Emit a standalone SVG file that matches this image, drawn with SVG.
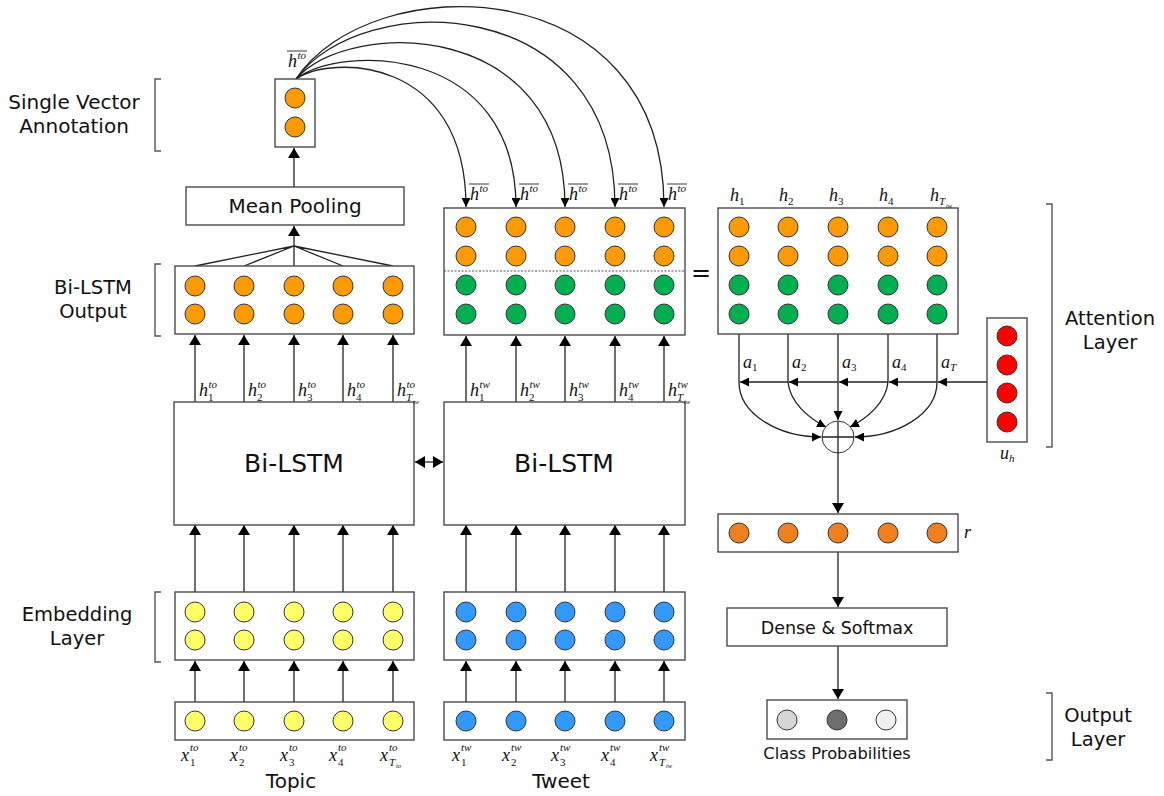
<svg xmlns="http://www.w3.org/2000/svg" width="1164" height="796" viewBox="0 0 1164 796">
<defs>
<marker id="ah" viewBox="0 0 10 12" refX="10" refY="6" markerWidth="10" markerHeight="12" markerUnits="userSpaceOnUse" orient="auto"><path d="M0,0 L10,6 L0,12 z" fill="#000"/></marker>
<marker id="ahs" viewBox="0 0 10 10" refX="10" refY="5" markerWidth="9" markerHeight="9" markerUnits="userSpaceOnUse" orient="auto"><path d="M0,0 L10,5 L0,10 z" fill="#000"/></marker>
<marker id="ahb" viewBox="0 0 10 12" refX="0" refY="6" markerWidth="10" markerHeight="12" markerUnits="userSpaceOnUse" orient="auto"><path d="M10,0 L0,6 L10,12 z" fill="#000"/></marker>
</defs>
<style>
.box{fill:#fff;stroke:#4a4a4a;stroke-width:1.4}
circle{stroke:#333;stroke-width:1}
.or{fill:#ff9a00}.gr{fill:#00b050}.ye{fill:#ffff66}.bl{fill:#3399ff}.rd{fill:#ff0000}.or2{fill:#f07f1e}
.lab{font-family:"DejaVu Sans",sans-serif;font-size:19.5px;fill:#111;text-anchor:middle}
.m{font-family:"Liberation Serif",serif;font-style:italic;fill:#111;font-size:18px}
.s{font-family:"Liberation Serif",serif;font-style:italic;fill:#111;font-size:11px}
.n{font-family:"Liberation Serif",serif;fill:#111;font-size:11px}
.t{font-family:"Liberation Serif",serif;font-style:italic;fill:#111;font-size:6.5px}
.ln{stroke:#222;stroke-width:1.3;fill:none}
.br{stroke:#555;stroke-width:1.4;fill:none}
.ol{stroke:#222;stroke-width:0.9}
</style>
<rect width="1164" height="796" fill="#fff"/>

<!-- layer labels -->
<g id="labels">
<text class="lab" x="74" y="109" style="font-size:20px">Single Vector</text>
<text class="lab" x="74" y="133" style="font-size:20px">Annotation</text>
<path class="br" d="M161,79 L155,79 L155,151 L161,151"/>
<text class="lab" x="93" y="294">Bi-LSTM</text>
<text class="lab" x="93" y="318">Output</text>
<path class="br" d="M161,264 L155,264 L155,336 L161,336"/>
<text class="lab" x="77" y="621">Embedding</text>
<text class="lab" x="77" y="645">Layer</text>
<path class="br" d="M161,592 L155,592 L155,662 L161,662"/>
<text class="lab" x="1110" y="325">Attention</text>
<text class="lab" x="1110" y="349">Layer</text>
<path class="br" d="M1046,204 L1052,204 L1052,447 L1046,447"/>
<text class="lab" x="1098" y="722">Output</text>
<text class="lab" x="1098" y="746">Layer</text>
<path class="br" d="M1046,693 L1052,693 L1052,760 L1046,760"/>
<text class="lab" x="291" y="788" style="font-size:20px">Topic</text>
<text class="lab" x="561" y="788" style="font-size:20px">Tweet</text>
</g>

<!-- connectors -->
<g id="connectors">
<!-- input -> embedding -->
<line class="ln" x1="195" y1="702" x2="195" y2="661" marker-end="url(#ah)"/>
<line class="ln" x1="244" y1="702" x2="244" y2="661" marker-end="url(#ah)"/>
<line class="ln" x1="294" y1="702" x2="294" y2="661" marker-end="url(#ah)"/>
<line class="ln" x1="343" y1="702" x2="343" y2="661" marker-end="url(#ah)"/>
<line class="ln" x1="393" y1="702" x2="393" y2="661" marker-end="url(#ah)"/>
<line class="ln" x1="466" y1="702" x2="466" y2="661" marker-end="url(#ah)"/>
<line class="ln" x1="516" y1="702" x2="516" y2="661" marker-end="url(#ah)"/>
<line class="ln" x1="565" y1="702" x2="565" y2="661" marker-end="url(#ah)"/>
<line class="ln" x1="615" y1="702" x2="615" y2="661" marker-end="url(#ah)"/>
<line class="ln" x1="664" y1="702" x2="664" y2="661" marker-end="url(#ah)"/>
<!-- embedding -> bilstm -->
<line class="ln" x1="195" y1="592" x2="195" y2="525" marker-end="url(#ah)"/>
<line class="ln" x1="244" y1="592" x2="244" y2="525" marker-end="url(#ah)"/>
<line class="ln" x1="294" y1="592" x2="294" y2="525" marker-end="url(#ah)"/>
<line class="ln" x1="343" y1="592" x2="343" y2="525" marker-end="url(#ah)"/>
<line class="ln" x1="393" y1="592" x2="393" y2="525" marker-end="url(#ah)"/>
<line class="ln" x1="466" y1="592" x2="466" y2="525" marker-end="url(#ah)"/>
<line class="ln" x1="516" y1="592" x2="516" y2="525" marker-end="url(#ah)"/>
<line class="ln" x1="565" y1="592" x2="565" y2="525" marker-end="url(#ah)"/>
<line class="ln" x1="615" y1="592" x2="615" y2="525" marker-end="url(#ah)"/>
<line class="ln" x1="664" y1="592" x2="664" y2="525" marker-end="url(#ah)"/>
<!-- bilstm -> outputs -->
<line class="ln" x1="195" y1="402" x2="195" y2="335" marker-end="url(#ah)"/>
<line class="ln" x1="244" y1="402" x2="244" y2="335" marker-end="url(#ah)"/>
<line class="ln" x1="294" y1="402" x2="294" y2="335" marker-end="url(#ah)"/>
<line class="ln" x1="343" y1="402" x2="343" y2="335" marker-end="url(#ah)"/>
<line class="ln" x1="393" y1="402" x2="393" y2="335" marker-end="url(#ah)"/>
<line class="ln" x1="466" y1="402" x2="466" y2="336" marker-end="url(#ah)"/>
<line class="ln" x1="516" y1="402" x2="516" y2="336" marker-end="url(#ah)"/>
<line class="ln" x1="565" y1="402" x2="565" y2="336" marker-end="url(#ah)"/>
<line class="ln" x1="615" y1="402" x2="615" y2="336" marker-end="url(#ah)"/>
<line class="ln" x1="664" y1="402" x2="664" y2="336" marker-end="url(#ah)"/>
<!-- double arrow -->
<line class="ln" x1="415" y1="462" x2="443" y2="462" stroke-width="1.6" marker-start="url(#ahb)" marker-end="url(#ah)"/>
<!-- fan to mean pooling -->
<path class="ln" d="M195,266 L294,246 M244,266 L294,246 M294,266 L294,246 M343,266 L294,246 M393,266 L294,246"/>
<line class="ln" x1="294" y1="246" x2="294" y2="226" marker-end="url(#ah)"/>
<line class="ln" x1="294" y1="187" x2="294" y2="148" marker-end="url(#ah)"/>
<!-- curves from single vector -->
<path class="ln" d="M296,79 C330,55 466,55 466,207" marker-end="url(#ahs)"/>
<path class="ln" d="M296,79 C340,44 516,44 516,207" marker-end="url(#ahs)"/>
<path class="ln" d="M296,79 C350,18 565,18 565,207" marker-end="url(#ahs)"/>
<path class="ln" d="M296,79 C360,-11 615,-11 615,207" marker-end="url(#ahs)"/>
<path class="ln" d="M296,79 C370,-33 664,-33 664,207" marker-end="url(#ahs)"/>
<!-- attention -->
<path class="ln" d="M739,334 V382 M788,334 V382 M838,334 V382 M888,334 V382 M937,334 V382"/>
<line class="ln" x1="987" y1="382" x2="938" y2="382" marker-end="url(#ahs)"/>
<line class="ln" x1="937" y1="382" x2="889" y2="382" marker-end="url(#ahs)"/>
<line class="ln" x1="888" y1="382" x2="839" y2="382" marker-end="url(#ahs)"/>
<line class="ln" x1="838" y1="382" x2="789" y2="382" marker-end="url(#ahs)"/>
<line class="ln" x1="788" y1="382" x2="740" y2="382" marker-end="url(#ahs)"/>
<path class="ln" d="M739,382 C739,415 780,437 821,437" marker-end="url(#ahs)"/>
<path class="ln" d="M788,382 C790,402 808,418 826,427" marker-end="url(#ahs)"/>
<path class="ln" d="M888,382 C886,402 868,418 850,427" marker-end="url(#ahs)"/>
<path class="ln" d="M937,382 C937,415 896,437 855,437" marker-end="url(#ahs)"/>
<line class="ln" x1="838" y1="382" x2="838" y2="420" marker-end="url(#ahs)"/>
<line class="ln" x1="838" y1="453" x2="838" y2="513" marker-end="url(#ah)"/>
<line class="ln" x1="838" y1="552" x2="838" y2="607" marker-end="url(#ah)"/>
<line class="ln" x1="838" y1="646" x2="838" y2="699" marker-end="url(#ah)"/>
</g>

<g id="single-vector">
<rect class="box" x="275" y="79" width="40" height="68"/>
<circle class="or" cx="295" cy="98" r="10"/>
<circle class="or" cx="295" cy="127" r="10"/>
<text class="m" x="288" y="67">h</text><text class="s" x="297.5" y="59">to</text>
<line class="ol" x1="287" y1="51" x2="307" y2="51"/>
</g>

<g id="mean-pooling">
<rect class="box" x="186" y="187" width="218" height="38"/>
<text class="lab" x="295" y="213" style="font-size:20px">Mean Pooling</text>
</g>

<g id="topic-bilstm-output">
<rect class="box" x="175" y="266" width="239" height="68"/>
<circle class="or" cx="195" cy="286" r="10"/><circle class="or" cx="244" cy="286" r="10"/><circle class="or" cx="294" cy="286" r="10"/><circle class="or" cx="343" cy="286" r="10"/><circle class="or" cx="393" cy="286" r="10"/>
<circle class="or" cx="195" cy="314" r="10"/><circle class="or" cx="244" cy="314" r="10"/><circle class="or" cx="294" cy="314" r="10"/><circle class="or" cx="343" cy="314" r="10"/><circle class="or" cx="393" cy="314" r="10"/>
</g>

<g id="topic-bilstm">
<rect class="box" x="174" y="402" width="240" height="123"/>
<text class="lab" x="294" y="472" style="font-size:25px">Bi-LSTM</text>
<text class="m" x="199" y="396">h</text><text class="s" x="208.5" y="388">to</text><text class="n" x="208" y="401">1</text>
<text class="m" x="248" y="396">h</text><text class="s" x="257.5" y="388">to</text><text class="n" x="257" y="401">2</text>
<text class="m" x="298" y="396">h</text><text class="s" x="307.5" y="388">to</text><text class="n" x="307" y="401">3</text>
<text class="m" x="347" y="396">h</text><text class="s" x="356.5" y="388">to</text><text class="n" x="356" y="401">4</text>
<text class="m" x="397" y="396">h</text><text class="s" x="406.5" y="388">to</text><text class="s" x="406" y="401">T</text><text class="t" x="413" y="404">tw</text>
</g>

<g id="topic-embedding">
<rect class="box" x="175" y="592" width="239" height="68"/>
<circle class="ye" cx="195" cy="612" r="10"/><circle class="ye" cx="244" cy="612" r="10"/><circle class="ye" cx="294" cy="612" r="10"/><circle class="ye" cx="343" cy="612" r="10"/><circle class="ye" cx="393" cy="612" r="10"/>
<circle class="ye" cx="195" cy="640" r="10"/><circle class="ye" cx="244" cy="640" r="10"/><circle class="ye" cx="294" cy="640" r="10"/><circle class="ye" cx="343" cy="640" r="10"/><circle class="ye" cx="393" cy="640" r="10"/>
</g>

<g id="topic-input">
<rect class="box" x="175" y="702" width="239" height="38"/>
<circle class="ye" cx="195" cy="721" r="10"/><circle class="ye" cx="244" cy="721" r="10"/><circle class="ye" cx="294" cy="721" r="10"/><circle class="ye" cx="343" cy="721" r="10"/><circle class="ye" cx="393" cy="721" r="10"/>
<text class="m" x="181" y="761">x</text><text class="s" x="190" y="751">to</text><text class="n" x="190" y="766">1</text>
<text class="m" x="230" y="761">x</text><text class="s" x="239" y="751">to</text><text class="n" x="239" y="766">2</text>
<text class="m" x="280" y="761">x</text><text class="s" x="289" y="751">to</text><text class="n" x="289" y="766">3</text>
<text class="m" x="329" y="761">x</text><text class="s" x="338" y="751">to</text><text class="n" x="338" y="766">4</text>
<text class="m" x="380" y="761">x</text><text class="s" x="389" y="751">to</text><text class="s" x="389" y="766">T</text><text class="t" x="396" y="768">to</text>
</g>

<g id="tweet-concat">
<rect class="box" x="444" y="208" width="241" height="127"/>
<line x1="444" y1="271" x2="685" y2="271" stroke="#555" stroke-width="1" stroke-dasharray="2,1.5"/>
<circle class="or" cx="466" cy="227" r="10"/><circle class="or" cx="516" cy="227" r="10"/><circle class="or" cx="565" cy="227" r="10"/><circle class="or" cx="615" cy="227" r="10"/><circle class="or" cx="664" cy="227" r="10"/>
<circle class="or" cx="466" cy="256" r="10"/><circle class="or" cx="516" cy="256" r="10"/><circle class="or" cx="565" cy="256" r="10"/><circle class="or" cx="615" cy="256" r="10"/><circle class="or" cx="664" cy="256" r="10"/>
<circle class="gr" cx="466" cy="285" r="10"/><circle class="gr" cx="516" cy="285" r="10"/><circle class="gr" cx="565" cy="285" r="10"/><circle class="gr" cx="615" cy="285" r="10"/><circle class="gr" cx="664" cy="285" r="10"/>
<circle class="gr" cx="466" cy="314" r="10"/><circle class="gr" cx="516" cy="314" r="10"/><circle class="gr" cx="565" cy="314" r="10"/><circle class="gr" cx="615" cy="314" r="10"/><circle class="gr" cx="664" cy="314" r="10"/>
<text class="m" x="470" y="200">h</text><text class="s" x="479.5" y="192">to</text><line class="ol" x1="469" y1="184" x2="489" y2="184"/>
<text class="m" x="520" y="200">h</text><text class="s" x="529.5" y="192">to</text><line class="ol" x1="519" y1="184" x2="539" y2="184"/>
<text class="m" x="569" y="200">h</text><text class="s" x="578.5" y="192">to</text><line class="ol" x1="568" y1="184" x2="588" y2="184"/>
<text class="m" x="619" y="200">h</text><text class="s" x="628.5" y="192">to</text><line class="ol" x1="618" y1="184" x2="638" y2="184"/>
<text class="m" x="668" y="200">h</text><text class="s" x="677.5" y="192">to</text><line class="ol" x1="667" y1="184" x2="687" y2="184"/>
</g>

<g id="tweet-bilstm">
<rect class="box" x="444" y="402" width="241" height="123"/>
<text class="lab" x="564" y="472" style="font-size:25px">Bi-LSTM</text>
<text class="m" x="470" y="396">h</text><text class="s" x="479.5" y="388">tw</text><text class="n" x="479" y="401">1</text>
<text class="m" x="520" y="396">h</text><text class="s" x="529.5" y="388">tw</text><text class="n" x="529" y="401">2</text>
<text class="m" x="569" y="396">h</text><text class="s" x="578.5" y="388">tw</text><text class="n" x="578" y="401">3</text>
<text class="m" x="619" y="396">h</text><text class="s" x="628.5" y="388">tw</text><text class="n" x="628" y="401">4</text>
<text class="m" x="668" y="396">h</text><text class="s" x="677.5" y="388">tw</text><text class="s" x="677" y="401">T</text><text class="t" x="684" y="404">tw</text>
</g>

<g id="tweet-embedding">
<rect class="box" x="444" y="592" width="241" height="68"/>
<circle class="bl" cx="466" cy="612" r="10"/><circle class="bl" cx="516" cy="612" r="10"/><circle class="bl" cx="565" cy="612" r="10"/><circle class="bl" cx="615" cy="612" r="10"/><circle class="bl" cx="664" cy="612" r="10"/>
<circle class="bl" cx="466" cy="640" r="10"/><circle class="bl" cx="516" cy="640" r="10"/><circle class="bl" cx="565" cy="640" r="10"/><circle class="bl" cx="615" cy="640" r="10"/><circle class="bl" cx="664" cy="640" r="10"/>
</g>

<g id="tweet-input">
<rect class="box" x="444" y="702" width="241" height="38"/>
<circle class="bl" cx="466" cy="721" r="10"/><circle class="bl" cx="516" cy="721" r="10"/><circle class="bl" cx="565" cy="721" r="10"/><circle class="bl" cx="615" cy="721" r="10"/><circle class="bl" cx="664" cy="721" r="10"/>
<text class="m" x="452" y="761">x</text><text class="s" x="461" y="751">tw</text><text class="n" x="461" y="766">1</text>
<text class="m" x="502" y="761">x</text><text class="s" x="511" y="751">tw</text><text class="n" x="511" y="766">2</text>
<text class="m" x="551" y="761">x</text><text class="s" x="560" y="751">tw</text><text class="n" x="560" y="766">3</text>
<text class="m" x="601" y="761">x</text><text class="s" x="610" y="751">tw</text><text class="n" x="610" y="766">4</text>
<text class="m" x="650" y="761">x</text><text class="s" x="659" y="751">tw</text><text class="s" x="659" y="766">T</text><text class="t" x="666" y="768">tw</text>
</g>

<g id="equals">
<text x="701" y="281" style="font-family:'DejaVu Sans',sans-serif;font-size:24px;fill:#111;text-anchor:middle">=</text>
</g>

<g id="attention-h">
<rect class="box" x="718" y="208" width="240" height="126"/>
<circle class="or" cx="739" cy="227" r="10"/><circle class="or" cx="788" cy="227" r="10"/><circle class="or" cx="838" cy="227" r="10"/><circle class="or" cx="888" cy="227" r="10"/><circle class="or" cx="937" cy="227" r="10"/>
<circle class="or" cx="739" cy="256" r="10"/><circle class="or" cx="788" cy="256" r="10"/><circle class="or" cx="838" cy="256" r="10"/><circle class="or" cx="888" cy="256" r="10"/><circle class="or" cx="937" cy="256" r="10"/>
<circle class="gr" cx="739" cy="285" r="10"/><circle class="gr" cx="788" cy="285" r="10"/><circle class="gr" cx="838" cy="285" r="10"/><circle class="gr" cx="888" cy="285" r="10"/><circle class="gr" cx="937" cy="285" r="10"/>
<circle class="gr" cx="739" cy="314" r="10"/><circle class="gr" cx="788" cy="314" r="10"/><circle class="gr" cx="838" cy="314" r="10"/><circle class="gr" cx="888" cy="314" r="10"/><circle class="gr" cx="937" cy="314" r="10"/>
<text class="m" x="730" y="201">h</text><text class="n" x="739" y="205">1</text>
<text class="m" x="779" y="201">h</text><text class="n" x="788" y="205">2</text>
<text class="m" x="829" y="201">h</text><text class="n" x="838" y="205">3</text>
<text class="m" x="879" y="201">h</text><text class="n" x="888" y="205">4</text>
<text class="m" x="930" y="201">h</text><text class="s" x="939" y="205">T</text><text class="t" x="946" y="208">tw</text>
</g>

<g id="attention-weights">
<text class="m" x="743" y="368">a</text><text class="n" x="752" y="371">1</text>
<text class="m" x="792" y="368">a</text><text class="n" x="801" y="371">2</text>
<text class="m" x="842" y="368">a</text><text class="n" x="851" y="371">3</text>
<text class="m" x="892" y="368">a</text><text class="n" x="901" y="371">4</text>
<text class="m" x="941" y="368">a</text><text class="s" x="950" y="371">T</text>
</g>

<g id="sum">
<circle cx="838" cy="437" r="16" fill="#fff" stroke="#222" stroke-width="1.2"/>
<path class="ln" d="M838,421 V453 M822,437 H854"/>
</g>

<g id="context-u">
<rect class="box" x="987" y="318" width="40" height="124"/>
<circle class="rd" cx="1007" cy="336" r="10"/><circle class="rd" cx="1007" cy="365" r="10"/><circle class="rd" cx="1007" cy="393" r="10"/><circle class="rd" cx="1007" cy="422" r="10"/>
<text class="m" x="1000" y="459">u</text><text class="s" x="1009" y="462">h</text>
</g>

<g id="r-vector">
<rect class="box" x="718" y="514" width="240" height="38"/>
<circle class="or2" cx="739" cy="533" r="10"/><circle class="or2" cx="788" cy="533" r="10"/><circle class="or2" cx="838" cy="533" r="10"/><circle class="or2" cx="888" cy="533" r="10"/><circle class="or2" cx="937" cy="533" r="10"/>
<text class="m" x="964" y="538">r</text>
</g>

<g id="dense">
<rect class="box" x="727" y="608" width="220" height="38"/>
<text class="lab" x="837" y="634" style="font-size:17.5px">Dense &amp; Softmax</text>
</g>

<g id="output">
<rect class="box" x="767" y="700" width="140" height="39"/>
<circle cx="787" cy="720" r="10" fill="#d6d6d6"/>
<circle cx="837" cy="720" r="10" fill="#6e6e6e"/>
<circle cx="886" cy="720" r="10" fill="#f0f0f0"/>
<text class="lab" x="837" y="759" style="font-size:16.3px">Class Probabilities</text>
</g>
</svg>
